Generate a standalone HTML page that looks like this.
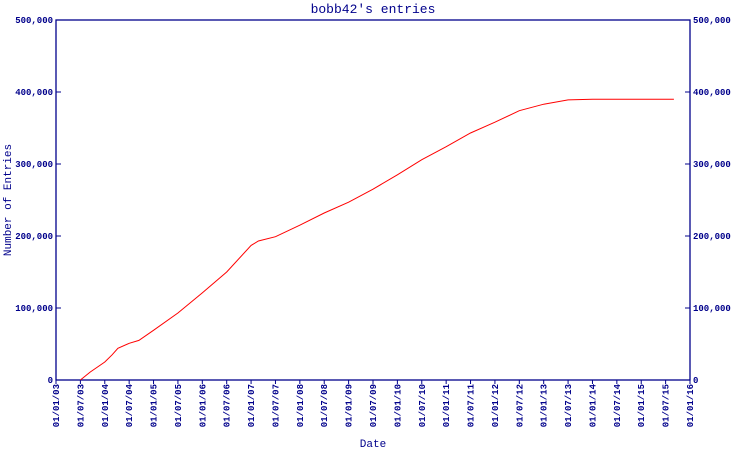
<!DOCTYPE html>
<html><head><meta charset="utf-8"><style>
body{margin:0;background:#fff}
svg{display:block;font-family:"Liberation Mono","DejaVu Sans Mono",monospace}
</style></head><body>
<svg width="750" height="450" viewBox="0 0 750 450" xmlns="http://www.w3.org/2000/svg">
<text x="373" y="13" text-anchor="middle" font-size="13" fill="#00008b">bobb42's entries</text>
<text transform="translate(11,200) rotate(-90)" text-anchor="middle" font-size="11" fill="#00008b">Number of Entries</text>
<text x="373" y="447" text-anchor="middle" font-size="11" fill="#00008b">Date</text>
<g id="axes"></g>
<path id="line" fill="none" stroke="#ff0000" stroke-width="1"/>
</svg>
<script>
const dates=[2003.5,2003.7,2004.0,2004.15,2004.27,2004.5,2004.7,2005.0,2005.5,2006.0,2006.5,2007.0,2007.15,2007.5,2008.0,2008.5,2009.0,2009.5,2010.0,2010.5,2011.0,2011.5,2012.0,2012.5,2013.0,2013.5,2014.0,2015.67];
const values=[0,11000,25000,35000,44000,51000,55000,69000,93000,121000,150000,187000,193000,199000,215000,232000,247000,265000,285000,306000,324000,343000,358000,374000,383000,389000,390000,390000];
const yTicks=[0,100000,200000,300000,400000,500000];
const yTickLabels=["0","100,000","200,000","300,000","400,000","500,000"];
const L=56,R=690,T=20,B=380,t0=2003,t1=2016;
const X=t=>L+(t-t0)/(t1-t0)*(R-L);
const Y=v=>B-v/500000*(B-T);
const NS="http://www.w3.org/2000/svg";
const ax=document.getElementById('axes');
function el(tag,attrs,txt){const e=document.createElementNS(NS,tag);for(const k in attrs)e.setAttribute(k,attrs[k]);if(txt!=null)e.textContent=txt;ax.appendChild(e);return e;}
const frame=el('rect',{x:L,y:T,width:R-L,height:B-T,fill:'none',stroke:'#00008b','stroke-width':1.3});


yTicks.forEach((v,i)=>{
  const y=Y(v);
  el('line',{x1:L,x2:L+5,y1:y,y2:y,stroke:'#00008b'});
  el('line',{x1:R-5,x2:R,y1:y,y2:y,stroke:'#00008b'});
  const a=el('text',{x:L-3,y:y+3,'text-anchor':'end','font-size':9,'font-weight':'bold',fill:'#00008b'},yTickLabels[i]);
  
  
  const b=el('text',{x:R+3,y:y+3,'text-anchor':'start','font-size':9,'font-weight':'bold',fill:'#00008b'},yTickLabels[i]);
  
  
});
for(let k=0;k<=26;k++){
  const t=t0+k/2,x=X(t);
  el('line',{x1:x,x2:x,y1:B,y2:B+4,stroke:'#00008b'});
  const yr=String(Math.floor(t)%100).padStart(2,'0');
  const lab=(k%2?'01/07/':'01/01/')+yr;
  const tx=el('text',{transform:`translate(${x+3},${B+4}) rotate(-90)`,'text-anchor':'end','font-size':9,'font-weight':'bold',fill:'#00008b'},lab);
  
  
}
document.getElementById('line').setAttribute('d',dates.map((d,i)=>(i?'L':'M')+X(d).toFixed(1)+','+Y(values[i]).toFixed(1)).join(''));
</script>
</body></html>
